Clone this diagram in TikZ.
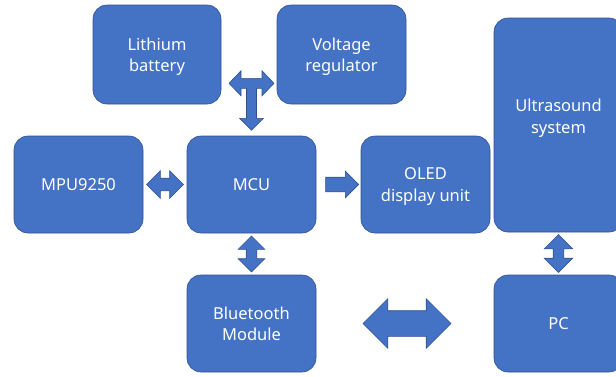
\documentclass[tikz,border=0pt]{standalone}
\usepackage{fontspec}
\setsansfont{Noto Sans}
\usetikzlibrary{shapes.arrows,calc}
\definecolor{blkfill}{HTML}{4472C4}
\definecolor{blkedge}{HTML}{2F528F}
\tikzset{blk/.style={rectangle,rounded corners=14pt,fill=blkfill,draw=blkedge,line width=0.6pt,
           inner sep=0pt,text=white,align=center,text depth=0pt,
           font=\sffamily\fontsize{16.5}{21.5}\selectfont},
         blktxt/.style={text=white,align=center,inner sep=0pt,text depth=0pt,
           font=\sffamily\fontsize{16.5}{21.5}\selectfont},
         blkarr/.style={fill=blkfill,draw=blkedge,line width=0.6pt,inner xsep=0pt},
         dblarr/.style={blkarr,double arrow,double arrow head extend=#1},
         sglarr/.style={blkarr,single arrow,single arrow head extend=#1}}
\begin{document}
\begin{tikzpicture}[x=1pt,y=-1pt]
  \useasboundingbox (0,0) rectangle (616,376);
  \foreach \n/\x/\y/\w/\h/\t in {batt/157/54.5/128/99/{Lithium\\battery},volt/341.5/54.5/129/99/{Voltage\\regulator},
      mpu/78.5/184.5/129/97/MPU9250,mcu/251.5/184.5/129/97/MCU,oled/425.5/184.5/129/97/{OLED\\display unit},
      bt/251.5/323.5/129/97/{Bluetooth\\Module},pc/558.5/323.5/129/97/PC}
    {\node[blk,minimum width=\w pt,minimum height=\h pt] (\n) at (\x,\y) {\t};}
  \node[blk,minimum width=129pt,minimum height=214pt] (us) at (558.5,125) {};
  \node[blktxt] (ustxt) at ($(us.center)+(0,-9)$) {Ultrasound\\system};
  % T-shaped arrow: battery <-> regulator, down to MCU
  \coordinate (tj) at ($(mcu.north |- batt.south)+(0,-21)$);
  \filldraw[blkarr,shift={(tj)}] (-22.5,0) -- (-10.5,-12.5) -- (-10.5,-5) -- (10.5,-5) -- (10.5,-12.5)
    -- (22.5,0) -- (10.5,12.5) -- (10.5,5) -- (5,5) -- (5,35) -- (12,35) -- (0,47) -- (-12,35)
    -- (-5,35) -- (-5,5) -- (-10.5,5) -- (-10.5,12.5) -- cycle;
  % links between blocks
  \node[dblarr=7.5pt,inner ysep=6pt,minimum height=37pt] (mpumcu) at ($(mpu.east)!.5!(mcu.west)$) {};
  \node[sglarr=6pt,inner ysep=7pt,minimum height=33pt] (mcuoled) at ($(mcu.east)!.5!(oled.west)$) {};
  \node[dblarr=8pt,inner ysep=5pt,minimum height=36pt,rotate=90] (mcubt) at ($(mcu.south)!.5!(bt.north)$) {};
  \node[dblarr=9pt,inner ysep=5pt,minimum height=38pt,rotate=90] (uspc) at ($(us.south)!.5!(pc.north)$) {};
  \node[dblarr=12pt,inner ysep=12.5pt,minimum height=88pt] (btpc) at ($(bt.east)!.5!(pc.west)+(2,0)$) {};
\end{tikzpicture}
\end{document}
